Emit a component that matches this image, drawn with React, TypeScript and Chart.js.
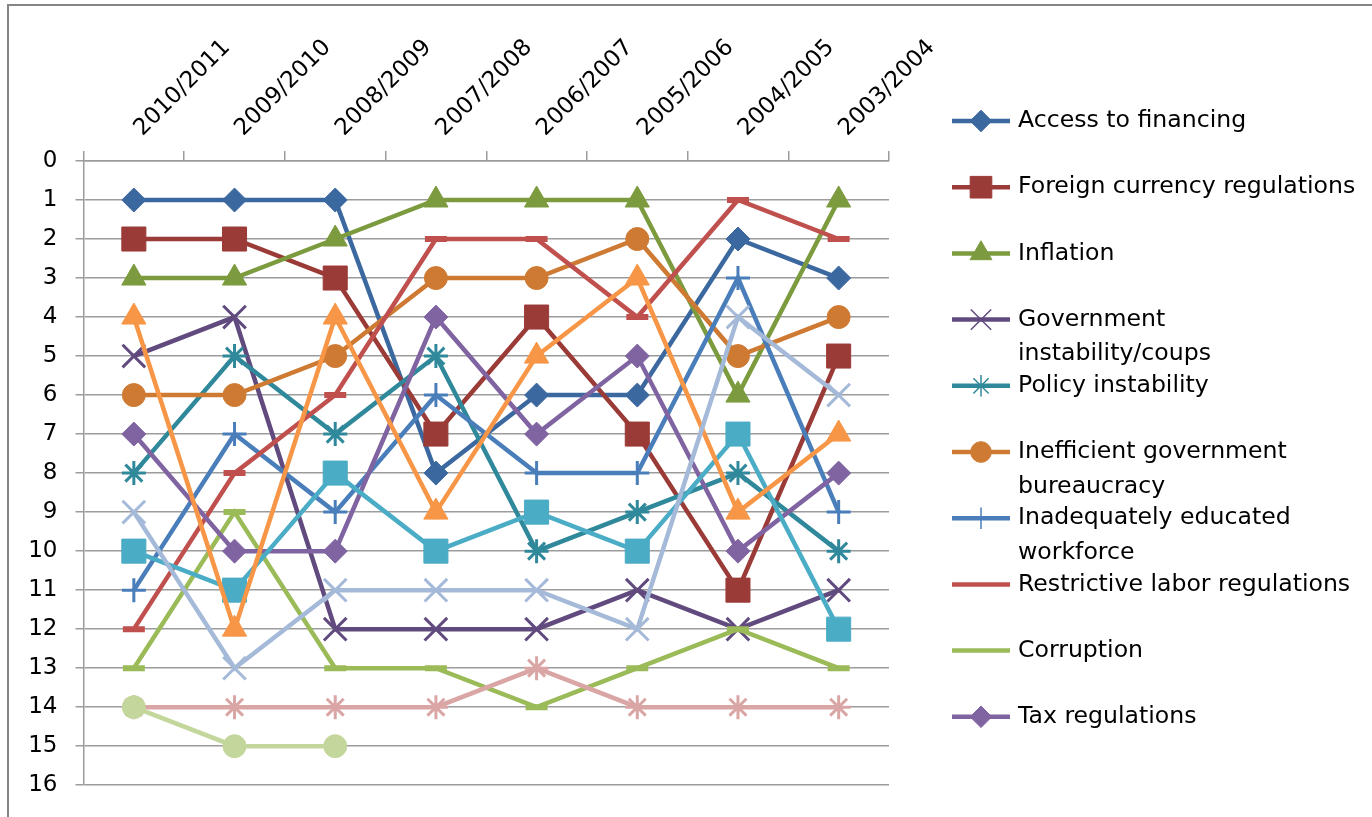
import React, { useEffect, useRef } from 'react';
import { Chart, registerables } from 'chart.js';
import { drawPoint } from 'chart.js/helpers';

Chart.register(...registerables);

// ---------- data ----------
const categories = ['2010/2011', '2009/2010', '2008/2009', '2007/2008', '2006/2007', '2005/2006', '2004/2005', '2003/2004'];

const accessToFinancing = [1, 1, 1, 8, 6, 6, 2, 3];
const foreignCurrencyRegulations = [2, 2, 3, 7, 4, 7, 11, 5];
const inflation = [3, 3, 2, 1, 1, 1, 6, 1];
const governmentInstability = [5, 4, 12, 12, 12, 11, 12, 11];
const policyInstability = [8, 5, 7, 5, 10, 9, 8, 10];
const inefficientBureaucracy = [6, 6, 5, 3, 3, 2, 5, 4];
const inadequatelyEducated = [11, 7, 9, 6, 8, 8, 3, 9];
const restrictiveLabor = [12, 8, 6, 2, 2, 4, 1, 2];
const corruption = [13, 9, 13, 13, 14, 13, 12, 13];
const taxRegulations = [7, 10, 10, 4, 7, 5, 10, 8];
const series11 = [10, 11, 8, 10, 9, 10, 7, 12];
const series12 = [4, 12, 4, 9, 5, 3, 9, 7];
const series13 = [9, 13, 11, 11, 11, 12, 4, 6];
const series14 = [14, 14, 14, 14, 13, 14, 14, 14];
const series15 = [14, 15, 15, null, null, null, null, null];

const seriesLabels = [
  ['Access to financing'],
  ['Foreign currency regulations'],
  ['Inflation'],
  ['Government', 'instability/coups'],
  ['Policy instability'],
  ['Inefficient government', 'bureaucracy'],
  ['Inadequately educated', 'workforce'],
  ['Restrictive labor regulations'],
  ['Corruption'],
  ['Tax regulations'],
  ['Series 11'],
  ['Series 12'],
  ['Series 13'],
  ['Series 14'],
  ['Series 15'],
];

const seriesData = [
  accessToFinancing, foreignCurrencyRegulations, inflation, governmentInstability, policyInstability,
  inefficientBureaucracy, inadequatelyEducated, restrictiveLabor, corruption, taxRegulations,
  series11, series12, series13, series14, series15,
];

const seriesColors = [
  '#3C68A0', '#9B3B38', '#7C9B3E', '#614A7E', '#30889B', '#CE7A33',
  '#4A7EBB', '#C0504D', '#9BBB59', '#8064A2', '#4BACC6', '#F79646',
  '#A5B9D8', '#D9A6A5', '#C3D69B',
];

const seriesMarkers = [
  'diamond', 'square', 'triangle', 'x', 'star', 'circle', 'plus', 'dash', 'dash', 'diamond',
  'square', 'triangle', 'x', 'star', 'circle',
];

const legendCount = 10;

// ---------- styling ----------
const FONT = "'DejaVu Sans', sans-serif";
const GRID = '#9C9C9C';

const markerSpec: Record<string, { style: string; radius: number; bw: number }> = {
  diamond: { style: 'rectRot', radius: 12, bw: 1 },
  square: { style: 'rect', radius: 17, bw: 1 },
  triangle: { style: 'triangle', radius: 14, bw: 1 },
  x: { style: 'crossRot', radius: 16, bw: 3 },
  star: { style: 'star', radius: 12, bw: 3 },
  circle: { style: 'circle', radius: 11.5, bw: 1 },
  plus: { style: 'cross', radius: 12, bw: 3 },
  dash: { style: 'line', radius: 11, bw: 6 },
};

const LEGEND_X_LINE0 = 952;
const LEGEND_X_LINE1 = 1010;
const LEGEND_X_MARK = 981;
const LEGEND_X_TEXT = 1018;
const LEGEND_Y0 = 121;
const LEGEND_STEP = 66.2;
const LEGEND_LINE_GAP = 34.5;

const sideLegend = {
  id: 'sideLegend',
  afterDraw(chart: any) {
    const ctx = chart.ctx as CanvasRenderingContext2D;
    ctx.save();
    for (let i = 0; i < legendCount; i++) {
      const y = LEGEND_Y0 + i * LEGEND_STEP;
      const color = seriesColors[i];
      ctx.strokeStyle = color;
      ctx.lineWidth = 4.5;
      ctx.lineCap = 'butt';
      ctx.beginPath();
      ctx.moveTo(LEGEND_X_LINE0, y);
      ctx.lineTo(LEGEND_X_LINE1, y);
      ctx.stroke();
      const kind = seriesMarkers[i];
      if (kind !== 'dash') {
        const m = markerSpec[kind];
        ctx.fillStyle = color;
        ctx.strokeStyle = color;
        const thin = kind === 'x' || kind === 'star' || kind === 'plus';
        const bw = thin ? 1.5 : m.bw;
        ctx.lineWidth = bw;
        drawPoint(ctx, { pointStyle: m.style as any, radius: m.radius * 0.9, rotation: 0, borderWidth: bw }, LEGEND_X_MARK, y);
      }
      ctx.fillStyle = '#000';
      ctx.font = `23.6px ${FONT}`;
      ctx.textAlign = 'left';
      ctx.textBaseline = 'middle';
      seriesLabels[i].forEach((line, k) => {
        ctx.fillText(line, LEGEND_X_TEXT, y + k * LEGEND_LINE_GAP);
      });
    }
    ctx.restore();
  },
};

export default function App() {
  const canvasRef = useRef<HTMLCanvasElement | null>(null);

  useEffect(() => {
    const canvas = canvasRef.current;
    if (!canvas) return;
    const n = seriesData.length;
    const datasets = seriesData.map((data, i) => {
      const color = seriesColors[i];
      const m = markerSpec[seriesMarkers[i]];
      return {
        label: seriesLabels[i].join(' '),
        data,
        borderColor: color,
        backgroundColor: color,
        borderWidth: 4.5,
        tension: 0,
        spanGaps: false,
        pointStyle: m.style,
        pointRadius: m.radius,
        pointHoverRadius: m.radius,
        pointBorderWidth: m.bw,
        pointBackgroundColor: color,
        pointBorderColor: color,
        order: n - i,
      };
    });

    const chart = new Chart(canvas, {
      type: 'line',
      data: { labels: categories, datasets: datasets as any },
      plugins: [sideLegend],
      options: {
        responsive: false,
        animation: false,
        events: [],
        layout: { padding: { left: 0, top: 0, right: 483, bottom: 28 } },
        plugins: {
          legend: { display: false },
          tooltip: { enabled: false },
          title: { display: false },
        },
        scales: {
          x: {
            type: 'category',
            position: 'top',
            offset: true,
            grid: {
              display: true,
              drawOnChartArea: false,
              drawTicks: true,
              tickLength: 10,
              color: GRID,
              lineWidth: 1.5,
              offset: true,
            },
            border: { display: true, color: GRID, width: 1.5 },
            ticks: {
              minRotation: 45,
              maxRotation: 45,
              autoSkip: false,
              padding: 9,
              labelOffset: 24,
              color: '#000',
              font: { family: FONT, size: 23 },
            },
            afterFit: (s: any) => {
              s.height = 161;
            },
          },
          y: {
            type: 'linear',
            min: 0,
            max: 16,
            reverse: true,
            ticks: {
              stepSize: 1,
              padding: 18,
              color: '#000',
              font: { family: FONT, size: 23 },
            },
            grid: { color: GRID, lineWidth: 1.5, tickLength: 8 },
            border: { display: true, color: GRID, width: 1.5 },
            afterFit: (s: any) => {
              s.width = 83.5;
            },
          },
        },
      } as any,
    });
    return () => chart.destroy();
  }, []);

  return (
    <div style={{ position: 'fixed', left: 0, top: 0, width: 1372, height: 817, background: '#fff', overflow: 'hidden' }}>
      <div
        style={{
          position: 'absolute',
          left: 7,
          top: 4,
          right: 0,
          bottom: 0,
          borderLeft: '2px solid #858585',
          borderTop: '2px solid #858585',
        }}
      />
      <canvas
        ref={canvasRef}
        width={1372}
        height={817}
        style={{ position: 'absolute', left: 0, top: 0, width: 1372, height: 817 }}
      />
    </div>
  );
}
